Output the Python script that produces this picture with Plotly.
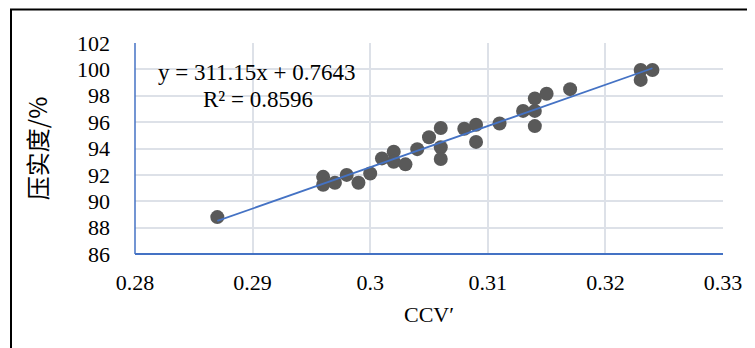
import numpy as np
import plotly.graph_objects as go

ccv = [0.287, 0.296, 0.296, 0.297, 0.298, 0.299, 0.300, 0.301, 0.302, 0.302,
       0.303, 0.304, 0.305, 0.306, 0.306, 0.306, 0.308, 0.309, 0.309, 0.311,
       0.313, 0.314, 0.314, 0.314, 0.315, 0.317, 0.323, 0.323, 0.324]
compaction = [88.8, 91.85, 91.25, 91.4, 92.0, 91.4, 92.1, 93.25, 93.75, 93.0,
              92.8, 93.95, 94.85, 95.55, 94.1, 93.2, 95.5, 95.8, 94.5, 95.9,
              96.85, 97.8, 96.85, 95.7, 98.15, 98.5, 99.95, 99.2, 99.95]
x_ticks = [0.28, 0.29, 0.30, 0.31, 0.32, 0.33]
x_tick_labels = ["0.28", "0.29", "0.3", "0.31", "0.32", "0.33"]
y_ticks = [86, 88, 90, 92, 94, 96, 98, 100, 102]
eq_text = "y = 311.15x + 0.7643"
r2_text = "R² = 0.8596"

slope, intercept = np.polyfit(ccv, compaction, 1)
fit_x = [min(ccv), max(ccv)]
fit_y = [slope * v + intercept for v in fit_x]

OFF = 8  # page body margin
W, H = 755 - OFF, 348 - OFF
L, R, T, B = 135 - OFF, 723 - OFF, 43 - OFF, 254 - OFF

fig = go.Figure()
fig.add_trace(go.Scatter(x=ccv, y=compaction, mode="markers",
                         marker=dict(color="#595959", size=14, line=dict(width=0)),
                         showlegend=False))
fig.add_trace(go.Scatter(x=fit_x, y=fit_y, mode="lines",
                         line=dict(color="#4472C4", width=1.8), showlegend=False))

font = dict(family="Liberation Serif, Times New Roman, serif", size=22, color="#000000")
afont = dict(family="Liberation Serif, Times New Roman, serif", size=23, color="#000000")
fig.update_layout(
    width=W, height=H,
    margin=dict(l=L, r=W - R, t=T, b=H - B, pad=0),
    paper_bgcolor="white", plot_bgcolor="white",
    font=font,
    xaxis=dict(range=[0.28, 0.33], tickvals=x_ticks, ticktext=x_tick_labels,
               showgrid=True, gridcolor="#DDE1E8", gridwidth=1.5,
               showline=False, zeroline=False, ticks="",
               tickfont=font, automargin=False, ticklabelstandoff=13,
               title=dict(text="CCV′", font=font, standoff=12)),
    yaxis=dict(range=[86, 102], tickvals=y_ticks,
               showgrid=True, gridcolor="#DDE1E8", gridwidth=1.5,
               showline=False, zeroline=False, ticks="",
               tickfont=font, automargin=False, ticklabelstandoff=24,
               title=dict(text="压实度/%", font=dict(family="Noto Sans CJK SC", size=24, color="#000000"),
                          standoff=22)),
)
fig.add_shape(type="line", xref="paper", yref="paper", x0=0, x1=0, y0=0, y1=1,
              line=dict(color="#4472C4", width=1.5))
fig.add_shape(type="line", xref="paper", yref="paper", x0=0, x1=1, y0=0, y1=0,
              line=dict(color="#4472C4", width=2))
pw, ph = R - L, B - T
fig.add_shape(type="rect", xref="paper", yref="paper",
              x0=(11 - OFF - L) / pw, x1=(W + 10 - L) / pw,
              y0=(B - (H + 10)) / ph, y1=(B - (9.5 - OFF)) / ph,
              line=dict(color="#000000", width=2), fillcolor="rgba(0,0,0,0)", layer="below")

fig.add_annotation(xref="paper", yref="paper", x=(257 - OFF - L) / pw, y=(B - (72 - OFF)) / ph,
                   text=eq_text, showarrow=False, font=afont, xanchor="center", yanchor="middle")
fig.add_annotation(xref="paper", yref="paper", x=(258 - OFF - L) / pw, y=(B - (99 - OFF)) / ph,
                   text=r2_text, showarrow=False, font=afont, xanchor="center", yanchor="middle")

fig.write_html("out.html")
